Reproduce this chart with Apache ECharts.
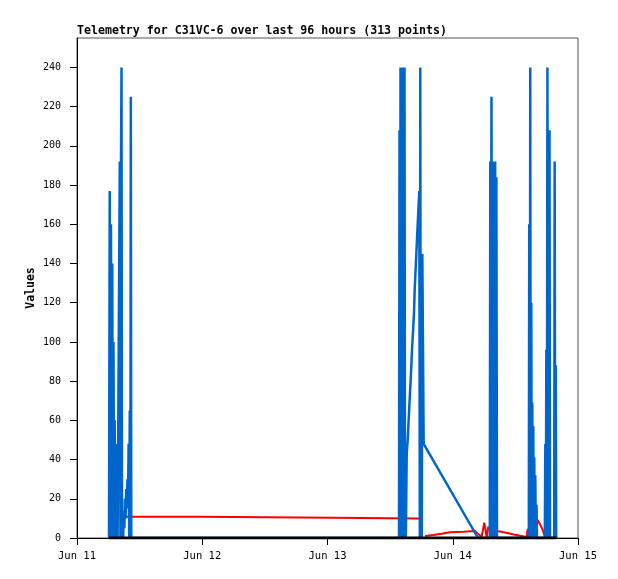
<!DOCTYPE html>
<html>
<head>
<meta charset="utf-8">
<script src="https://cdn.jsdelivr.net/npm/echarts@6/dist/echarts.min.js"></script>
<style>
html,body{margin:0;padding:0;background:#fff;}
#chart{width:618px;height:579px;}
</style>
</head>
<body>
<div id="chart"></div>
<script>
//标题与坐标轴
var chartTitle = 'Telemetry for C31VC-6 over last 96 hours (313 points)';
var xTickHours = [0, 24, 48, 72, 96];
var xTickLabels = ['Jun 11', 'Jun 12', 'Jun 13', 'Jun 14', 'Jun 15'];
var yTickValues = [0, 20, 40, 60, 80, 100, 120, 140, 160, 180, 200, 220, 240];

//蓝色序列（小时, 值）
var blueHours = [6.13,6.27,6.38,6.51,6.63,6.76,6.88,6.99,7.11,7.22,7.34,7.44,7.57,7.66,7.78,
  8.09,8.20,8.32,8.43,8.53,8.62,8.74,8.85,8.97,9.08,9.20,9.31,9.43,9.54,9.66,9.77,9.89,10.00,10.11,10.23,10.31,10.40,
  61.70,61.80,61.89,61.99,62.09,62.18,62.28,62.37,62.47,62.57,62.66,62.76,62.85,62.93,63.01,63.08,
  63.18,63.37,63.56,63.81,64.00,64.19,64.38,64.58,64.71,64.90,65.09,65.28,65.48,65.59,
  65.69,65.78,65.88,65.97,66.07,66.17,66.43,76.84,
  79.10,79.19,79.29,79.42,79.56,79.67,79.79,79.90,80.02,80.13,80.25,80.36,80.48,
  86.57,86.66,86.76,86.85,86.95,87.05,87.14,87.24,87.34,87.43,87.53,87.62,87.72,87.82,87.91,88.05,88.14,
  89.64,89.74,89.84,89.93,90.03,90.14,90.26,90.35,90.45,90.54,90.64,91.44,91.53,91.63,91.73,91.82];
var blueValues = [0,177,0,160,0,140,0,100,0,60,0,48,0,24,0,
  0,192,0,192,240,0,10,0,14,5,20,10,25,15,30,18,48,0,65,0,225,0,
  0,208,0,240,0,240,0,240,0,240,0,240,0,28,0,17,
  43,50,61,74,84,96,105,115,127,138,149,160,171,177,
  0,240,0,145,0,145,48,0,
  0,192,0,225,0,192,0,192,0,192,0,184,0,
  0,160,0,240,0,120,0,69,0,57,0,41,0,32,0,17,0,
  0,48,0,96,0,240,0,208,0,208,0,0,192,0,88,0];

//红色序列（null 为断开）
var redHours = [8.81,8.85,23.57,23.66,48.90,48.99,65.53,65.60,
  66.68,68.27,69.88,71.47,74.02,76.26,77.52,78.04,78.50,78.81,79.04,80.54,82.01,83.93,86.17,86.33,86.48,
  86.55,87.47,87.85,88.27,88.71,89.19,89.67];
var redValues = [9,10.8,10.8,10.3,10.3,9.9,9.9,null,
  1.0,1.5,2.2,2.9,3.2,3.6,0.5,7.8,0.3,5.8,4.5,3.6,2.8,1.7,0.5,4.4,0,
  5,5,1,9.2,7,4.5,0.5];

//黑色零值序列
var zeroHours = [6.13, 91.88];
var zeroValues = [0, 0];

function pairs(hours, values){
  var out = [];
  for(var i=0;i<hours.length;i++){
    out.push([hours[i], values[i]===null ? '-' : values[i]]);
  }
  return out;
}

var monoFont = 'DejaVu Sans Mono';
var option = {
  animation: false,
  backgroundColor: '#fff',
  title: {
    text: chartTitle,
    left: 77,
    top: 25,
    padding: 0,
    textStyle: {fontFamily: monoFont, fontWeight: 'bold', fontSize: 11.6, color: '#000'}
  },
  grid: {left: 77, right: 40, top: 38, bottom: 41, show: true, borderColor: '#555', borderWidth: 1},
  xAxis: {
    type: 'value',
    min: 0,
    max: 96,
    splitLine: {show: false},
    axisLine: {show: true, onZero: false, lineStyle: {color: '#000', width: 1}},
    axisTick: {show: true, length: 7, customValues: xTickHours, lineStyle: {color: '#000'}},
    axisLabel: {
      margin: 13,
      customValues: xTickHours,
      fontFamily: monoFont, fontSize: 10.5, color: '#000',
      formatter: function(v){
        var i = xTickHours.indexOf(v);
        return i >= 0 ? xTickLabels[i] : '';
      }
    }
  },
  yAxis: {
    type: 'value',
    min: 0,
    max: 255,
    interval: 20,
    name: 'Values',
    nameLocation: 'middle',
    nameGap: 40,
    nameMoveOverlap: false,
    nameTextStyle: {fontFamily: monoFont, fontWeight: 'bold', fontSize: 11.5, color: '#000'},
    splitLine: {show: false},
    axisLine: {show: true, lineStyle: {color: '#000', width: 1}},
    axisTick: {show: true, length: 7, customValues: yTickValues, lineStyle: {color: '#000'}},
    axisLabel: {margin: 16, customValues: yTickValues, fontFamily: monoFont, fontSize: 10, color: '#000'}
  },
  series: [
    {
      type: 'line', data: pairs(redHours, redValues), showSymbol: false, connectNulls: false,
      lineStyle: {color: '#ff0000', width: 2}, itemStyle: {color: '#ff0000'}, z: 2
    },
    {
      type: 'line', data: pairs(blueHours, blueValues), showSymbol: false,
      lineStyle: {color: '#0066cc', width: 2.5}, itemStyle: {color: '#0066cc'}, z: 3
    },
    {
      type: 'line', data: pairs(zeroHours, zeroValues), showSymbol: false,
      lineStyle: {color: '#000', width: 3}, itemStyle: {color: '#000'}, z: 4
    }
  ]
};
var myChart = echarts.init(document.getElementById('chart'));
myChart.setOption(option);
</script>
</body>
</html>
